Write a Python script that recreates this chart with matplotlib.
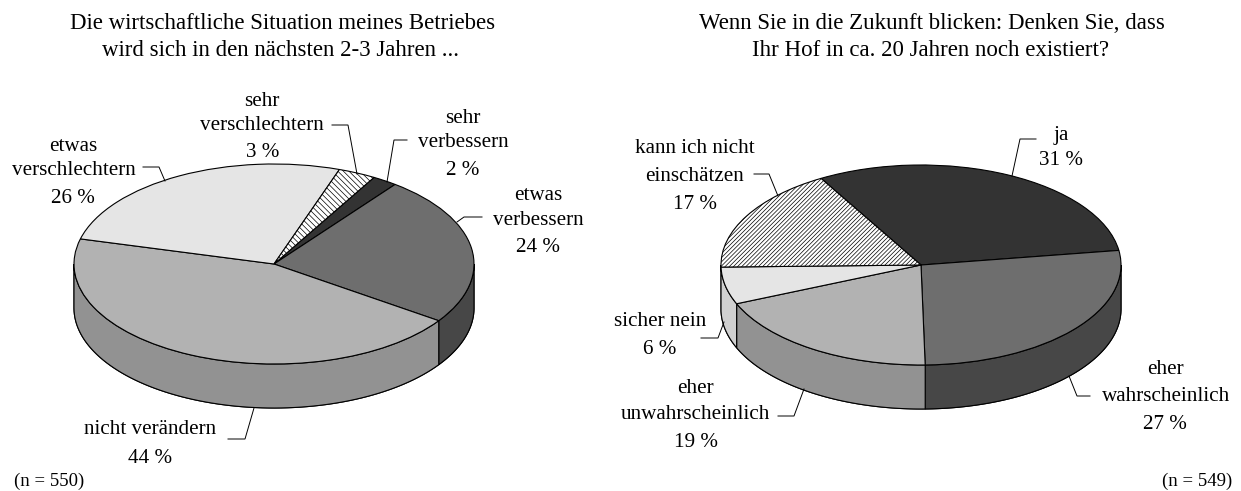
import numpy as np
import matplotlib
matplotlib.use("Agg")
import matplotlib.pyplot as plt

plt.rcParams['font.family'] = ['Liberation Serif', 'DejaVu Serif']
plt.rcParams['hatch.linewidth'] = 0.5

# left chart, clockwise
werte_l = [2, 24, 44, 26, 3]
farben_l = ['#333333', '#6e6e6e', '#b2b2b2', '#e5e5e5', '#ffffff']
seite_l = ['#252525', '#474747', '#929292', '#c8c8c8', '#dddddd']
hatch_l = [None, None, None, None, '\\\\\\\\\\\\']

# right chart, clockwise
werte_r = [31, 27, 19, 6, 17]
farben_r = ['#333333', '#6e6e6e', '#b2b2b2', '#e5e5e5', '#ffffff']
seite_r = ['#252525', '#474747', '#929292', '#d0d0d0', '#dddddd']
hatch_r = [None, None, None, None, '////////']

W, H = 1241, 491
RX, RY, TIEFE = 200, 100, 44
FS = 15.2
FS_TITEL = 16.5
FS_N = 13.5

fig = plt.figure(figsize=(W / 100, H / 100), dpi=100)


def torte(cx, cy, werte, farben, seite, muster, start, grund):
    ax = fig.add_axes([(cx - RX) / W, 1 - (cy + RY) / H, 2 * RX / W, 2 * RY / H])
    wedges, _ = ax.pie(werte, colors=farben, startangle=start, counterclock=False,
                       wedgeprops=dict(edgecolor='black', linewidth=0.8))
    ax.set_aspect('auto')
    ax.set_xlim(-1, 1)
    ax.set_ylim(-1, 1)
    ax.axis('off')
    for w, m in zip(wedges, muster):
        w.set_clip_on(False)
        w.set_zorder(3)
        if m:
            w.set_hatch(m)
    # side wall from the same values
    d = TIEFE / RY
    # whole front wall behind, so tiny slivers can be left out
    t = np.radians(np.linspace(180, 360, 200))
    x = np.cos(t)
    y = np.sin(t)
    ax.fill(np.r_[x, x[::-1]], np.r_[y, y[::-1] - d], facecolor=grund,
            edgecolor='black', linewidth=0.8, clip_on=False, zorder=0)
    anteile = np.array(werte) / sum(werte) * 360
    oben = start
    for a, s in zip(anteile, seite):
        t1, t2 = oben - a, oben
        oben = t1
        # only the front half (180..360) can be seen
        for off in (0, -360):
            lo = max(t1 - off, 180)
            hi = min(t2 - off, 360)
            if hi - lo > 3:
                t = np.radians(np.linspace(lo, hi, 80))
                x = np.cos(t)
                y = np.sin(t)
                ax.fill(np.r_[x, x[::-1]], np.r_[y, y[::-1] - d], facecolor=s,
                        edgecolor='black', linewidth=0.8, clip_on=False, zorder=1)
    return ax


torte(274, 264, werte_l, farben_l, seite_l, hatch_l, 60, '#929292')
torte(921, 265, werte_r, farben_r, seite_r, hatch_r, 120, '#d0d0d0')

# overlay in pixels for text and leader lines
ov = fig.add_axes([0, 0, 1, 1], zorder=10)
ov.set_xlim(0, W)
ov.set_ylim(H, 0)
ov.axis('off')


def txt(x, y, s, ha='center', fs=FS):
    ov.text(x, y + 2.5, s, ha=ha, va='center', fontsize=fs, color='black')


def linie(xs, ys):
    ov.plot(xs, ys, color='black', lw=0.7, solid_joinstyle='miter', clip_on=False)


txt(283, 21, 'Die wirtschaftliche Situation meines Betriebes', fs=FS_TITEL)
txt(281, 48, 'wird sich in den nächsten 2-3 Jahren ...', fs=FS_TITEL)
txt(932, 21, 'Wenn Sie in die Zukunft blicken: Denken Sie, dass', fs=FS_TITEL)
txt(931, 48, 'Ihr Hof in ca. 20 Jahren noch existiert?', fs=FS_TITEL)

txt(262, 99, 'sehr')
txt(262, 123, 'verschlechtern')
txt(263, 150, '3 %')
linie([332, 348, 357], [125, 125, 174])

txt(463, 116, 'sehr')
txt(463, 140, 'verbessern')
txt(463, 168, '2 %')
linie([407, 394, 387], [140, 140, 182])

txt(538, 193, 'etwas')
txt(538, 218, 'verbessern')
txt(538, 245, '24 %')
linie([482, 464, 457], [217, 217, 222])

txt(73, 144, 'etwas')
txt(74, 168, 'verschlechtern')
txt(73, 196, '26 %')
linie([143, 159, 165], [167, 167, 181])

txt(150, 427, 'nicht verändern')
txt(150, 456, '44 %')
linie([228, 245, 254], [439, 439, 408])

txt(14, 479, '(n = 550)', ha='left', fs=FS_N)
txt(1232, 479, '(n = 549)', ha='right', fs=FS_N)

txt(1061, 133, 'ja')
txt(1061, 158, '31 %')
linie([1036, 1020, 1012], [139, 139, 176])

txt(695, 146, 'kann ich nicht')
txt(694, 174, 'einschätzen')
txt(695, 202, '17 %')
linie([754, 769, 778], [174, 174, 196])

txt(660, 319, 'sicher nein')
txt(660, 347, '6 %')
linie([701, 718, 724], [338, 338, 322])

txt(695, 386, 'eher')
txt(695, 412, 'unwahrscheinlich')
txt(696, 440, '19 %')
linie([778, 794, 804], [416, 416, 389])

txt(1165, 367, 'eher')
txt(1166, 394, 'wahrscheinlich')
txt(1165, 422, '27 %')
linie([1090, 1077, 1069], [396, 396, 376])

fig.savefig('out.png', dpi=100)
